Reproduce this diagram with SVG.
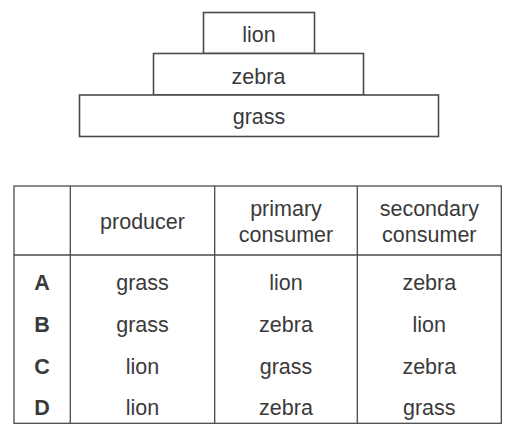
<svg xmlns="http://www.w3.org/2000/svg" width="513" height="433" viewBox="0 0 513 433">
<style>
.box{fill:#fff;stroke:#4a4a4a;stroke-width:1.6}
.ln{stroke:#4a4a4a;stroke-width:1.3;fill:none}
text{font-family:"Liberation Sans",Arial,sans-serif;font-size:21.5px;fill:#3a3a3a;text-anchor:middle}
.b{font-weight:bold}
</style>
<rect width="513" height="433" fill="#fff"/>
<g id="pyramid">
<g id="lion"><rect class="box" x="203.5" y="12.5" width="111" height="41"/><text x="259" y="42">lion</text></g>
<g id="zebra"><rect class="box" x="153.5" y="53.5" width="210" height="41.5"/><text x="258.5" y="83.5">zebra</text></g>
<g id="grass"><rect class="box" x="79.5" y="95" width="359" height="41.5"/><text x="259" y="124">grass</text></g>
</g>
<g id="table">
<rect class="ln" x="14" y="186" width="487.3" height="237.3"/>
<line class="ln" x1="70.3" y1="186" x2="70.3" y2="423.3"/>
<line class="ln" x1="214.7" y1="186" x2="214.7" y2="423.3"/>
<line class="ln" x1="357.3" y1="186" x2="357.3" y2="423.3"/>
<line class="ln" x1="14" y1="255" x2="501.3" y2="255"/>
<g id="header">
<text x="142.5" y="229">producer</text>
<text x="286" y="216">primary</text>
<text x="286" y="242">consumer</text>
<text x="429.3" y="216">secondary</text>
<text x="429.3" y="242">consumer</text>
</g>
<g id="rowA"><text class="b" x="42" y="290">A</text><text x="142.5" y="290">grass</text><text x="286" y="290">lion</text><text x="429.3" y="290">zebra</text></g>
<g id="rowB"><text class="b" x="42" y="332">B</text><text x="142.5" y="332">grass</text><text x="286" y="332">zebra</text><text x="429.3" y="332">lion</text></g>
<g id="rowC"><text class="b" x="42" y="374">C</text><text x="142.5" y="374">lion</text><text x="286" y="374">grass</text><text x="429.3" y="374">zebra</text></g>
<g id="rowD"><text class="b" x="42" y="415">D</text><text x="142.5" y="415">lion</text><text x="286" y="415">zebra</text><text x="429.3" y="415">grass</text></g>
</g>
</svg>
